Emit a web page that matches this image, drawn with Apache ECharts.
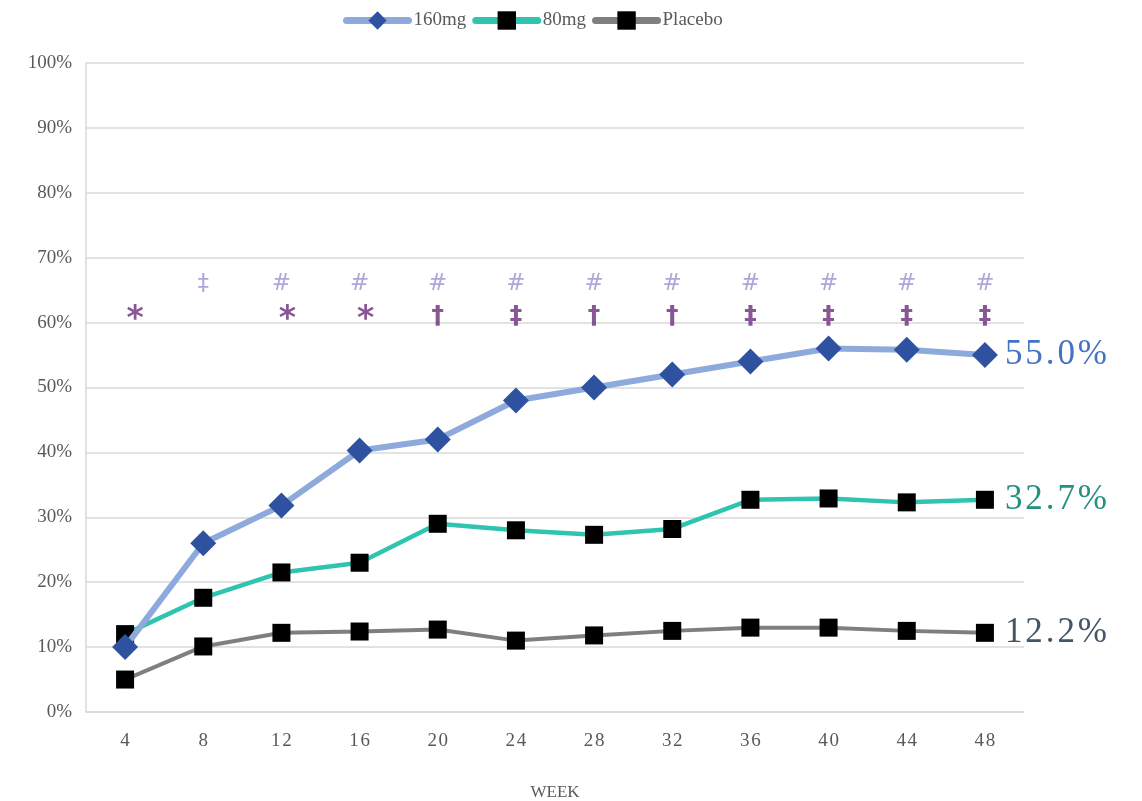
<!DOCTYPE html>
<html>
<head>
<meta charset="utf-8">
<script src="https://cdn.jsdelivr.net/npm/echarts@6/dist/echarts.min.js"></script>
<style>
  html, body { margin: 0; padding: 0; background: #ffffff; }
  #chart { width: 1142px; height: 801px; }
</style>
</head>
<body>
<div id="chart"></div>
<script>
// Study weeks on the x axis
const weeks = ['4', '8', '12', '16', '20', '24', '28', '32', '36', '40', '44', '48'];

// Response rate (%) per arm
const dose160 = [10.0, 26.0, 31.8, 40.3, 42.0, 48.0, 50.0, 52.0, 54.0, 56.0, 55.8, 55.0];
const dose80  = [12.0, 17.6, 21.5, 23.0, 29.0, 28.0, 27.3, 28.2, 32.7, 32.9, 32.3, 32.7];
const placebo = [5.0, 10.1, 12.2, 12.4, 12.7, 11.0, 11.8, 12.5, 13.0, 13.0, 12.5, 12.2];

// Significance markers: upper row 160mg vs placebo, lower row 80mg vs placebo
const sigUpper = ['', '\u2021', '#', '#', '#', '#', '#', '#', '#', '#', '#', '#'];
const sigLower = ['*', '', '*', '*', '\u2020', '\u2021', '\u2020', '\u2020', '\u2021', '\u2021', '\u2021', '\u2021'];
const sigUpperLevel = 66;
const sigLowerLevel = 61;

const yTicks = [0, 10, 20, 30, 40, 50, 60, 70, 80, 90, 100];

const FONT = '"Liberation Serif", "DejaVu Serif", serif';
const spaced = s => String(s).split('').join('\u200A');

const chart = echarts.init(document.getElementById('chart'));

function sigSeries(name, marks, level, color, size, weight) {
  return {
    name: name,
    type: 'scatter',
    symbolSize: 1,
    itemStyle: { color: 'rgba(0,0,0,0)' },
    silent: true,
    z: 5,
    data: marks.map((m, i) => ({
      value: [weeks[i], level],
      mark: m,
      label: m === '*' ? { fontSize: size + 8, offset: [i === 0 ? 10 : 6, 4] } : undefined
    })).filter(d => d.mark !== ''),
    label: {
      show: true,
      position: 'inside',
      formatter: p => p.data.mark,
      color: color,
      fontSize: size,
      fontWeight: weight,
      fontFamily: '"DejaVu Sans", sans-serif'
    }
  };
}

function endLabel(color) {
  return {
    show: true,
    distance: 20,
    formatter: p => spaced(p.value.toFixed(1) + '%'),
    fontFamily: FONT,
    fontSize: 35,
    color: color
  };
}

chart.setOption({
  animation: false,
  backgroundColor: '#ffffff',
  textStyle: { fontFamily: FONT },
  legend: {
    top: 6,
    left: 338,
    itemWidth: 62,
    itemHeight: 23,
    itemGap: 6,
    data: ['160mg', '80mg', 'Placebo'],
    lineStyle: { width: 7, cap: 'round' },
    textStyle: { fontFamily: FONT, fontSize: 19, color: '#595959' }
  },
  grid: { left: 86, right: 118, top: 63, bottom: 89, outerBoundsMode: 'none', containLabel: false },
  xAxis: {
    type: 'category',
    data: weeks,
    boundaryGap: true,
    name: 'WEEK',
    nameLocation: 'middle',
    nameGap: 72,
    nameTextStyle: { fontFamily: FONT, fontSize: 17, color: '#595959' },
    axisLine: { lineStyle: { color: '#d9d9d9', width: 1.5 } },
    axisTick: { show: false },
    axisLabel: {
      margin: 20,
      fontFamily: FONT,
      fontSize: 19,
      color: '#595959',
      formatter: v => spaced(v)
    }
  },
  yAxis: {
    type: 'value',
    min: yTicks[0],
    max: yTicks[yTicks.length - 1],
    interval: 10,
    axisLine: { show: true, lineStyle: { color: '#d9d9d9', width: 1.5 } },
    axisTick: { show: false },
    splitLine: { lineStyle: { color: '#d9d9d9', width: 1.5 } },
    axisLabel: {
      margin: 14,
      fontFamily: FONT,
      fontSize: 19,
      color: '#595959',
      formatter: v => v + '%'
    }
  },
  series: [
    {
      name: 'Placebo',
      type: 'line',
      data: placebo,
      z: 3,
      symbol: 'rect',
      symbolSize: 18,
      lineStyle: { color: '#7f7f7f', width: 4 },
      itemStyle: { color: '#000000' },
      endLabel: endLabel('#44546a')
    },
    {
      name: '80mg',
      type: 'line',
      data: dose80,
      z: 3,
      symbol: 'rect',
      symbolSize: 18,
      lineStyle: { color: '#2ec4b0', width: 4.5 },
      itemStyle: { color: '#000000' },
      endLabel: endLabel('#23917f')
    },
    {
      name: '160mg',
      type: 'line',
      data: dose160,
      z: 4,
      symbol: 'diamond',
      symbolSize: 26,
      lineStyle: { color: '#8eaadc', width: 6 },
      itemStyle: { color: '#2f52a0' },
      endLabel: endLabel('#4472c4')
    },
    sigSeries('sigUpper', sigUpper, sigUpperLevel, '#9a90d0', 23, 'normal'),
    sigSeries('sigLower', sigLower, sigLowerLevel, '#6b2d7b', 25, 'bold')
  ]
});
</script>
</body>
</html>
